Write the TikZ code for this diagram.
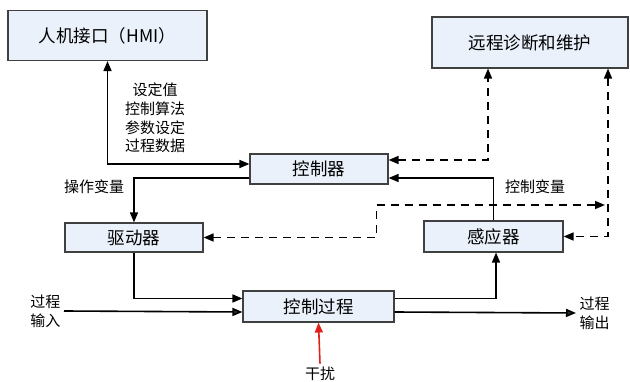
\documentclass[tikz,border=0pt]{standalone}
\usepackage{fontspec}
\setmainfont{Noto Sans CJK SC}
\usepackage{tikz}
\usetikzlibrary{arrows.meta, positioning, calc}
\definecolor{boxfill}{HTML}{EAF1FA}
\definecolor{boxline}{HTML}{404040}
\definecolor{ioline}{HTML}{1E3426}
\definecolor{disturb}{HTML}{E0201B}

\begin{document}
\begin{tikzpicture}[
        x=1pt, y=-1pt,
        every node/.style={font=\fontsize{15}{18.7}\selectfont},
        block/.style={rectangle, draw=boxline, fill=boxfill, line width=1.1pt,
                      font=\fontsize{17.5}{21}\selectfont, inner sep=0pt},
        flow/.style={-{Triangle[length=10pt, width=8pt]}, line width=1.6pt},
        both/.style={{Triangle[length=10pt, width=8pt]}-{Triangle[length=10pt, width=8pt]}, line width=1.6pt},
        remote link/.style={both, dash pattern=on 8pt off 6pt}
    ]
        \useasboundingbox (0,0) rectangle (630,382);

        % blocks
        \node[block, minimum width=199pt, minimum height=50pt] (hmi) at (107.5,35.5) {人机接口（HMI）};
        \node[block, minimum width=196pt, minimum height=51pt] (remote) at (530,42.5) {远程诊断和维护};
        \node[block, minimum width=138pt, minimum height=30pt] (ctrl) at (319,169) {控制器};
        \node[block, minimum width=138pt, minimum height=29pt] (driver) at (134,237.5) {驱动器};
        \node[block, minimum width=139pt, minimum height=31pt] (sensor) at (493.5,236.5) {感应器};
        \node[block, minimum width=151pt, minimum height=31pt] (process) at (318.5,306.5) {控制过程};

        % labels
        \node[align=center] (hmidata) at (155,118) {设定值\\控制算法\\参数设定\\过程数据};
        \node (manip) at (94,187) {操作变量};
        \node (ctrlvar) at (535,187) {控制变量};
        \node[align=center, anchor=east] (inlbl) at (64,311) {过程\\输入};
        \node[align=center, anchor=west] (outlbl) at (576,313) {过程\\输出};
        \node (dist) at (320,374) {干扰};
        \coordinate (tap) at (608,205);

        % solid connections
        \draw[both] (hmi.south) |- ([yshift=5pt]ctrl.west);
        \draw[flow] ([yshift=-9pt]ctrl.west) -| (driver.north);
        \draw[flow] (driver.south) |- ([yshift=8pt]process.west);
        \draw[flow, -{Triangle[length=10pt, width=8pt, fill=ioline]}] (inlbl.east) -- ([yshift=-5.5pt]process.west);
        \draw[flow] ([yshift=8pt]process.east) -| ([xshift=2.5pt]sensor.south);
        \draw[flow, -{Triangle[length=10pt, width=8pt, fill=ioline]}] ([yshift=-5.5pt]process.east) -- (outlbl.west);
        \draw[flow] (sensor.north) |- ([yshift=-9pt]ctrl.east);
        \draw[flow, disturb] (dist.north) -- (process.south);

        % dashed diagnostics links
        \draw[remote link] ([yshift=9pt]ctrl.east) -| ([xshift=-42pt]remote.south);
        \draw[remote link] ([xshift=78pt]remote.south) |- (sensor.east);
        \draw[remote link] (driver.east) -- ++(173,0) |- ([xshift=-3pt]tap);
    \end{tikzpicture}
\end{document}
